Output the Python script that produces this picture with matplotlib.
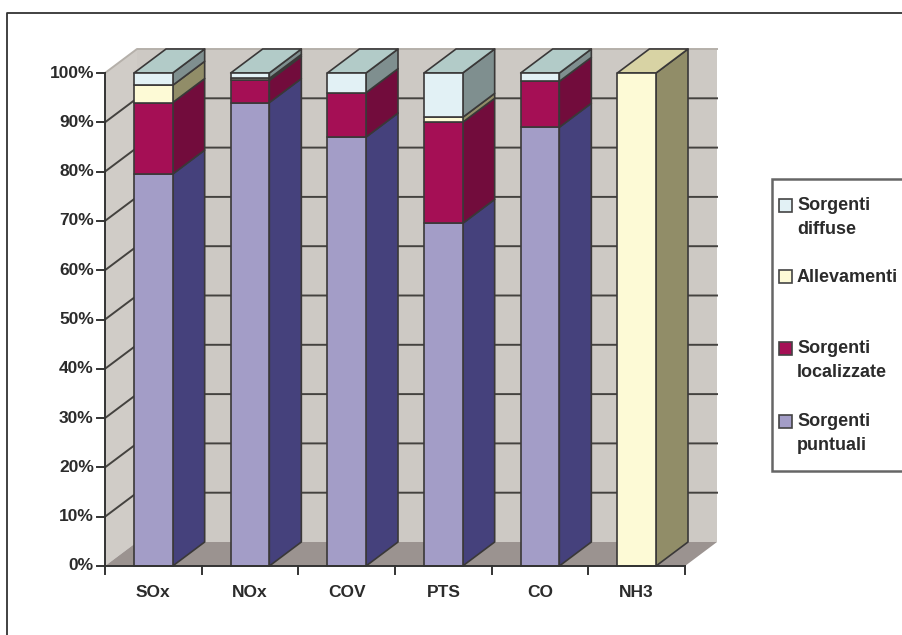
import matplotlib
matplotlib.use('Agg')
import matplotlib.pyplot as plt
from matplotlib.patches import Polygon, Rectangle

plt.rcParams['font.family'] = ['Liberation Sans', 'DejaVu Sans']

categorie = ['SOx', 'NOx', 'COV', 'PTS', 'CO', 'NH3']

# percentuali per ogni inquinante
puntuali = [79.5, 94, 87, 69.5, 89, 0]
localizzate = [14.5, 4.5, 9, 20.5, 9.3, 0]
allevamenti = [3.5, 0.4, 0, 1, 0, 100]
diffuse = [2.5, 1.1, 4, 9, 1.7, 0]

serie = [puntuali, localizzate, allevamenti, diffuse]
nomi = ['Sorgenti\npuntuali', 'Sorgenti\nlocalizzate', 'Allevamenti', 'Sorgenti\ndiffuse']
facce = ['#a39dc7', '#a50f55', '#fdfad6', '#e2f1f5']
lati = ['#45417c', '#720c3c', '#918d68', '#7f8f8f']
cime = ['#a39dc7', '#a50f55', '#d8d3a4', '#b2cbc8']
colori_legenda = ['#a39dc7', '#a50f55', '#fdfad6', '#e2f1f5']

W, H = 902, 635
fig = plt.figure(figsize=(W / 100, H / 100), dpi=100, facecolor='white')

# riquadro esterno del grafico, aperto a destra e in basso
fig.add_artist(plt.Line2D([7.5 / W, 7.5 / W, 1], [0, 1 - 12.5 / H, 1 - 12.5 / H],
                          transform=fig.transFigure, color='#333333', linewidth=1.3))

# l'asse coincide con il piano frontale: x in categorie, y in percentuale
ax = fig.add_axes([105 / W, 1 - 566 / H, 580 / W, 493 / H])
ax.set_xlim(0, 6)
ax.set_ylim(0, 100)
ax.axis('off')

dx = 32 / (580 / 6)   # profondita' in unita' di categoria
dy = 24 / 4.93        # profondita' in punti percentuali
larg = 0.40
bordo = '#3a3838'
testo = '#2b2b2b'


def poli(pts, fc, z, lw=1.2, ec=bordo):
    ax.add_patch(Polygon(pts, closed=True, facecolor=fc, edgecolor=ec, linewidth=lw,
                         zorder=z, clip_on=False, joinstyle='round'))


# pareti e pavimento
poli([(0, 0), (dx, dy), (dx, 100 + dy), (0, 100)], '#d0ccc7', 1, lw=0)
poli([(dx, dy), (6 + dx, dy), (6 + dx, 100 + dy), (dx, 100 + dy)], '#cdc9c4', 1, lw=0)
poli([(0, 0), (6, 0), (6 + dx, dy), (dx, dy)], '#9b9390', 1, lw=0)

# bordo superiore chiaro delle pareti
ax.plot([0, dx, 6 + dx], [100, 100 + dy, 100 + dy], color='#b5b0aa', lw=1.4, zorder=2, clip_on=False)

# griglia su parete sinistra e di fondo
for v in range(10, 100, 10):
    ax.plot([0, dx, 6 + dx], [v, v + dy, v + dy], color='#44423f', lw=1.4, zorder=2,
            clip_on=False, solid_joinstyle='miter')

# barre impilate, dal basso verso l'alto
for i in range(len(categorie)):
    x0 = i + 0.5 - larg / 2
    x1 = i + 0.5 + larg / 2
    base = 0
    top_idx = max(k for k in range(4) if serie[k][i] > 0)
    for k in range(4):
        val = serie[k][i]
        if val <= 0:
            continue
        cima = base + val
        poli([(x1, base), (x1 + dx, base + dy), (x1 + dx, cima + dy), (x1, cima)], lati[k], 3)
        poli([(x0, base), (x1, base), (x1, cima), (x0, cima)], facce[k], 4)
        if k == top_idx:
            poli([(x0, cima), (x1, cima), (x1 + dx, cima + dy), (x0 + dx, cima + dy)], cime[k], 3)
        base = cima

# assi frontali e tacche
ax.plot([0, 0], [0, 100], color='#333333', lw=1.4, zorder=5, clip_on=False)
ax.plot([0, 6], [0, 0], color='#333333', lw=1.4, zorder=5, clip_on=False)
for v in range(0, 101, 10):
    ax.plot([-0.085, 0], [v, v], color='#333333', lw=1.4, zorder=5, clip_on=False)
    ax.text(-0.115, v, f'{v}%', ha='right', va='center', fontsize=12.5, fontweight='bold',
            color=testo)
for i in range(7):
    ax.plot([i, i], [0, -1.7], color='#333333', lw=1.4, zorder=5, clip_on=False)
for i, nome in enumerate(categorie):
    ax.text(i + 0.5, -5.3, nome, ha='center', va='center', fontsize=12.5, fontweight='bold',
            color=testo)

# legenda disegnata a mano per tenere le voci distanziate
fig.add_artist(Rectangle((772 / W, 1 - 471 / H), 140 / W, 292 / H, transform=fig.transFigure,
                         facecolor='white', edgecolor='#666666', linewidth=1.8, zorder=6))
voci = [(3, 205), (2, 277), (1, 348), (0, 421)]
for k, y in voci:
    fig.add_artist(Rectangle((779 / W, 1 - (y + 6.5) / H), 13 / W, 13 / H, transform=fig.transFigure,
                             facecolor=colori_legenda[k], edgecolor='#444444', linewidth=1.2, zorder=7))
    fig.text(797 / W, 1 - (y - 8) / H, nomi[k], ha='left', va='top', fontsize=13, fontweight='bold',
             color=testo, linespacing=1.5, zorder=7)

fig.savefig('out.png', dpi=100)
